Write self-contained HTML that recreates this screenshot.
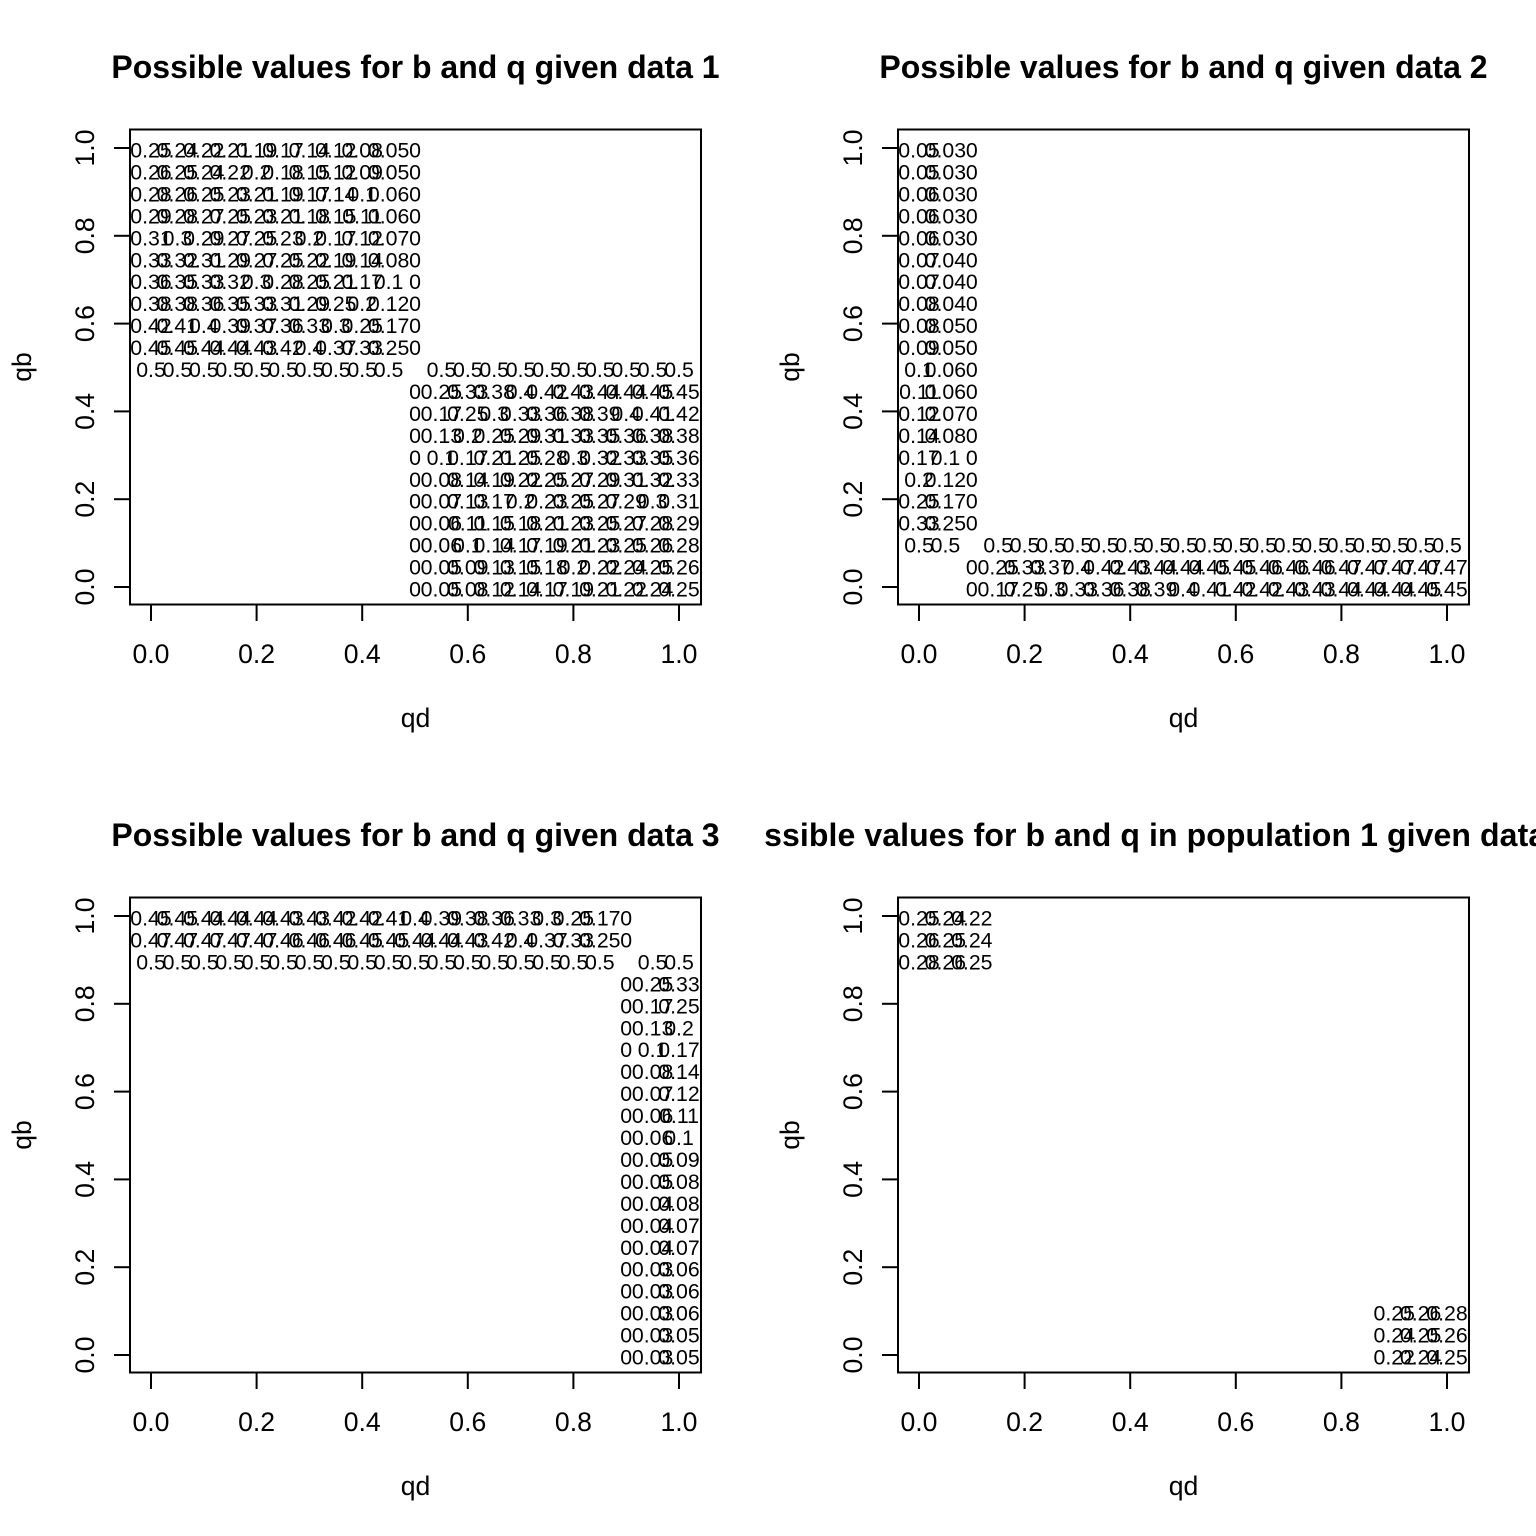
<!DOCTYPE html>
<html><head><meta charset="utf-8"><style>
html,body{margin:0;padding:0;background:#fff;}
svg{display:block;font-family:"Liberation Sans",Arial,sans-serif;}
</style></head><body>
<svg id="fig" width="1536" height="1536" viewBox="0 0 1536 1536">
<defs><clipPath id="clip4"><rect x="765" y="768" width="771" height="768"/></clipPath></defs>
</svg>
<script>
// ---- data ----
const axisTicks = [0, 0.2, 0.4, 0.6, 0.8, 1.0];
const tickLabels = ["0.0", "0.2", "0.4", "0.6", "0.8", "1.0"];
const panelTitles = [
  "Possible values for b and q given data 1",
  "Possible values for b and q given data 2",
  "Possible values for b and q given data 3",
  "Possible values for b and q in population 1 given data 1"
];
// each block: qd start, qb start (top row), rows going down by 0.05, columns right by 0.05
const p1LeftQd = 0, p1LeftQb = 1.0;
const p1Left = [
  [0.25,0.24,0.22,0.21,0.19,0.17,0.14,0.12,0.08,0.05,0],
  [0.26,0.25,0.24,0.22,0.2,0.18,0.15,0.12,0.09,0.05,0],
  [0.28,0.26,0.25,0.23,0.21,0.19,0.17,0.14,0.1,0.06,0],
  [0.29,0.28,0.27,0.25,0.23,0.21,0.18,0.15,0.11,0.06,0],
  [0.31,0.3,0.29,0.27,0.25,0.23,0.2,0.17,0.12,0.07,0],
  [0.33,0.32,0.31,0.29,0.27,0.25,0.22,0.19,0.14,0.08,0],
  [0.36,0.35,0.33,0.32,0.3,0.28,0.25,0.21,0.17,0.1,0],
  [0.38,0.38,0.36,0.35,0.33,0.31,0.29,0.25,0.2,0.12,0],
  [0.42,0.41,0.4,0.39,0.37,0.36,0.33,0.3,0.25,0.17,0],
  [0.45,0.45,0.44,0.44,0.43,0.42,0.4,0.37,0.33,0.25,0],
  [0.5,0.5,0.5,0.5,0.5,0.5,0.5,0.5,0.5,0.5,null,0.5,0.5,0.5,0.5,0.5,0.5,0.5,0.5,0.5,0.5]
];
const p1RightQd = 0.5, p1RightQb = 0.45;
const p1Right = [
  [0,0.25,0.33,0.38,0.4,0.42,0.43,0.44,0.44,0.45,0.45],
  [0,0.17,0.25,0.3,0.33,0.36,0.38,0.39,0.4,0.41,0.42],
  [0,0.13,0.2,0.25,0.29,0.31,0.33,0.35,0.36,0.38,0.38],
  [0,0.1,0.17,0.21,0.25,0.28,0.3,0.32,0.33,0.35,0.36],
  [0,0.08,0.14,0.19,0.22,0.25,0.27,0.29,0.31,0.32,0.33],
  [0,0.07,0.13,0.17,0.2,0.23,0.25,0.27,0.29,0.3,0.31],
  [0,0.06,0.11,0.15,0.18,0.21,0.23,0.25,0.27,0.28,0.29],
  [0,0.06,0.1,0.14,0.17,0.19,0.21,0.23,0.25,0.26,0.28],
  [0,0.05,0.09,0.13,0.15,0.18,0.2,0.22,0.24,0.25,0.26],
  [0,0.05,0.08,0.12,0.14,0.17,0.19,0.21,0.22,0.24,0.25]
];
const p2LeftQd = 0, p2LeftQb = 1.0;
const p2Left = [
  [0.05,0.03,0],[0.05,0.03,0],[0.06,0.03,0],[0.06,0.03,0],[0.06,0.03,0],
  [0.07,0.04,0],[0.07,0.04,0],[0.08,0.04,0],[0.08,0.05,0],[0.09,0.05,0],
  [0.1,0.06,0],[0.11,0.06,0],[0.12,0.07,0],[0.14,0.08,0],[0.17,0.1,0],
  [0.2,0.12,0],[0.25,0.17,0],[0.33,0.25,0],
  [0.5,0.5,null,0.5,0.5,0.5,0.5,0.5,0.5,0.5,0.5,0.5,0.5,0.5,0.5,0.5,0.5,0.5,0.5,0.5,0.5]
];
const p2RightQd = 0.1, p2RightQb = 0.05;
const p2Right = [
  [0,0.25,0.33,0.37,0.4,0.42,0.43,0.44,0.44,0.45,0.45,0.46,0.46,0.46,0.47,0.47,0.47,0.47,0.47],
  [0,0.17,0.25,0.3,0.33,0.36,0.38,0.39,0.4,0.41,0.42,0.42,0.43,0.43,0.44,0.44,0.44,0.45,0.45]
];
const p3LeftQd = 0, p3LeftQb = 1.0;
const p3Left = [
  [0.45,0.45,0.44,0.44,0.44,0.43,0.43,0.42,0.42,0.41,0.4,0.39,0.38,0.36,0.33,0.3,0.25,0.17,0],
  [0.47,0.47,0.47,0.47,0.47,0.46,0.46,0.46,0.45,0.45,0.44,0.44,0.43,0.42,0.4,0.37,0.33,0.25,0],
  [0.5,0.5,0.5,0.5,0.5,0.5,0.5,0.5,0.5,0.5,0.5,0.5,0.5,0.5,0.5,0.5,0.5,0.5,null,0.5,0.5]
];
const p3RightQd = 0.9, p3RightQb = 0.85;
const p3Right = [
  [0,0.25,0.33],[0,0.17,0.25],[0,0.13,0.2],[0,0.1,0.17],[0,0.08,0.14],[0,0.07,0.12],
  [0,0.06,0.11],[0,0.06,0.1],[0,0.05,0.09],[0,0.05,0.08],[0,0.04,0.08],[0,0.04,0.07],
  [0,0.04,0.07],[0,0.03,0.06],[0,0.03,0.06],[0,0.03,0.06],[0,0.03,0.05],[0,0.03,0.05]
];
const p4LeftQd = 0, p4LeftQb = 1.0;
const p4Left = [[0.25,0.24,0.22],[0.26,0.25,0.24],[0.28,0.26,0.25]];
const p4RightQd = 0.9, p4RightQb = 0.1;
const p4Right = [[0.25,0.26,0.28],[0.24,0.25,0.26],[0.22,0.24,0.25]];

const panels = [
  {ox:0, oy:0, blocks:[[p1LeftQd,p1LeftQb,p1Left],[p1RightQd,p1RightQb,p1Right]]},
  {ox:768, oy:0, blocks:[[p2LeftQd,p2LeftQb,p2Left],[p2RightQd,p2RightQb,p2Right]]},
  {ox:0, oy:768, blocks:[[p3LeftQd,p3LeftQb,p3Left],[p3RightQd,p3RightQb,p3Right]]},
  {ox:768, oy:768, blocks:[[p4LeftQd,p4LeftQb,p4Left],[p4RightQd,p4RightQb,p4Right]]}
];

const NS = "http://www.w3.org/2000/svg";
const svg = document.getElementById("fig");
function mk(tag, attrs, parent, txt){
  const e = document.createElementNS(NS, tag);
  for (const k in attrs) e.setAttribute(k, attrs[k]);
  if (txt !== undefined) e.textContent = txt;
  parent.appendChild(e);
  return e;
}
panels.forEach((p, i) => {
  const g = mk("g", {}, svg);
  
  
  const xs = v => p.ox + 151 + 528 * v;
  const ys = v => p.oy + 587 - 439 * v;
  // title
  const tg = mk("g", i === 3 ? {"clip-path":"url(#clip4)"} : {}, g);
  const tAttrs = i === 3
    ? {x:723, y:p.oy + 78, "text-anchor":"start", "font-size":32, "font-weight":"bold", textLength:850, lengthAdjust:"spacing"}
    : {x:p.ox + 415.5, y:p.oy + 78, "text-anchor":"middle", "font-size":32, "font-weight":"bold"};
  const t = mk("text", tAttrs, tg, panelTitles[i]);
  
  
  // box
  const box = mk("rect", {x:p.ox + 130, y:p.oy + 129.5, width:571, height:475, fill:"none", stroke:"#000", "stroke-width":2}, g);
  
  
  // axes
  axisTicks.forEach((v, k) => {
    const xt = mk("line", {x1:xs(v), x2:xs(v), y1:p.oy + 604.5, y2:p.oy + 621, stroke:"#000", "stroke-width":2}, g);
    
    
    const xl = mk("text", {x:xs(v), y:p.oy + 663, "text-anchor":"middle", "font-size":26.6}, g, tickLabels[k]);
    
    
    const yt = mk("line", {x1:p.ox + 114, x2:p.ox + 130, y1:ys(v), y2:ys(v), stroke:"#000", "stroke-width":2}, g);
    
    
    const yl = mk("text", {x:0, y:0, "text-anchor":"middle", "font-size":26.6, transform:`translate(${p.ox + 94},${ys(v)}) rotate(-90)`}, g, tickLabels[k]);
    
    
  });
  const xa = mk("text", {x:p.ox + 415.5, y:p.oy + 727, "text-anchor":"middle", "font-size":26.6}, g, "qd");
  
  
  const ya = mk("text", {x:0, y:0, "text-anchor":"middle", "font-size":26.6, transform:`translate(${p.ox + 31},${p.oy + 367}) rotate(-90)`}, g, "qb");
  
  
  // value labels
  p.blocks.forEach(b => {
    const [qd0, qb0, rows] = b;
    rows.forEach((row, r) => {
      row.forEach((val, c) => {
        if (val === null) return;
        const qd = qd0 + 0.05 * c, qb = qb0 - 0.05 * r;
        const lt = mk("text", {x:xs(qd), y:ys(qb) + 9.5, "text-anchor":"middle", "font-size":21.3}, g, String(val));
        
        
      });
    });
  });
});
</script>
</body></html>
